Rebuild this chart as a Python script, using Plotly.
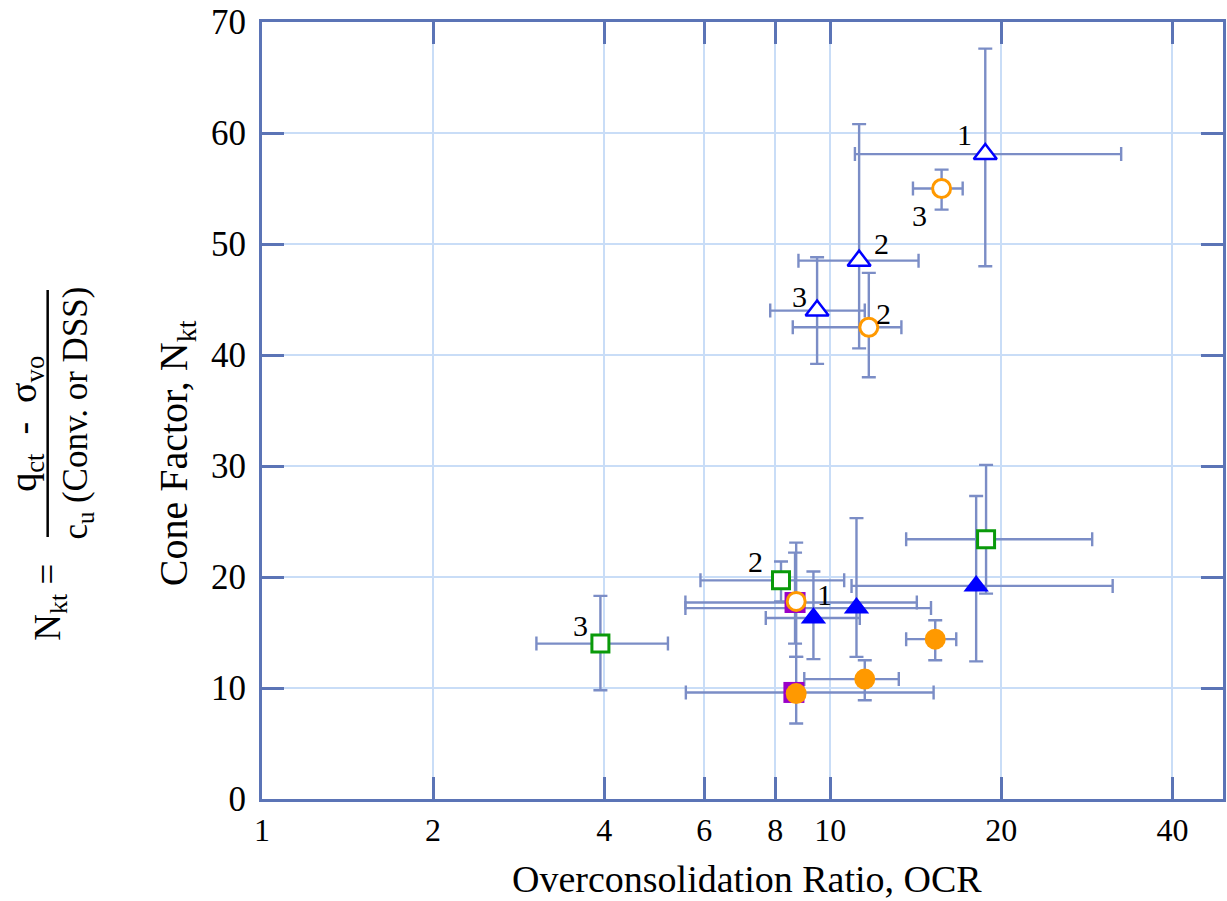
import numpy as np
import plotly.graph_objects as go

# ---------------- data: OCR (x), cone factor Nkt (y), error-bar extents ----------------
# open triangles
tri_o_ocr = [18.74, 11.24, 9.48]
tri_o_nkt = [58.1, 48.5, 44.0]
tri_o_ocr_lo = [11.05, 8.79, 7.84]
tri_o_ocr_hi = [32.5, 14.3, 11.5]
tri_o_nkt_lo = [48.0, 40.6, 39.2]
tri_o_nkt_hi = [67.6, 60.8, 48.8]
tri_o_site = ["1", "2", "3"]

# filled triangles
tri_f_ocr = [9.34, 11.12, 18.06]
tri_f_nkt = [16.3, 17.2, 19.2]
tri_f_ocr_lo = [7.70, 5.56, 10.9]
tri_f_ocr_hi = [11.27, 15.04, 31.4]
tri_f_nkt_lo = [12.6, 12.8, 12.4]
tri_f_nkt_hi = [20.5, 25.3, 27.3]
tri_f_site = ["", "", ""]

# open circles
cir_o_ocr = [8.71, 11.69, 15.7]
cir_o_nkt = [17.8, 42.5, 55.0]
cir_o_ocr_lo = [None, 8.59, 13.98]
cir_o_ocr_hi = [None, 13.34, 17.1]
cir_o_nkt_lo = [12.8, 38.0, 53.1]
cir_o_nkt_hi = [23.1, 47.4, 56.7]
cir_o_site = ["1", "2", "3"]

# filled circles
cir_f_ocr = [8.71, 11.5, 15.3]
cir_f_nkt = [9.5, 10.8, 14.4]
cir_f_ocr_lo = [None, 9.0, 13.6]
cir_f_ocr_hi = [None, 13.2, 16.66]
cir_f_nkt_lo = [6.8, 8.9, 12.5]
cir_f_nkt_hi = [12.8, 12.5, 16.1]
cir_f_site = ["", "", ""]

# open squares
sq_o_ocr = [18.8, 8.19, 3.94]
sq_o_nkt = [23.4, 19.7, 14.0]
sq_o_ocr_lo = [13.6, 5.91, 3.04]
sq_o_ocr_hi = [28.9, 10.58, 5.18]
sq_o_nkt_lo = [18.5, 17.8, 9.8]
sq_o_nkt_hi = [30.1, 21.4, 18.3]
sq_o_site = ["", "2", "3"]

# filled squares
sq_f_ocr = [8.67, 8.63]
sq_f_nkt = [17.7, 9.6]
sq_f_ocr_lo = [5.56, 5.57]
sq_f_ocr_hi = [14.2, 15.2]
sq_f_nkt_lo = [14.0, None]
sq_f_nkt_hi = [22.2, None]
sq_f_site = ["", ""]

ocr_ticks = [1, 2, 4, 6, 8, 10, 20, 40]
ocr_tick_text = ["1", "2", "4", "6", "8", "10", "20", "40"]
nkt_ticks = [0, 10, 20, 30, 40, 50, 60, 70]
nkt_tick_text = ["0", "10", "20", "30", "40", "50", "60", "70"]

# ---------------- styling ----------------
W, H = 1227, 901
ML, MR, MT, MB = 262, 1, 22, 102
PW, PH = W - ML - MR, H - MT - MB

AXIS = "#5b74b6"
GRID = "#c9ddf7"
ERR = "#7b8dc6"
BLUE = "#0000ff"
ORANGE = "#ff9900"
GREEN = "#0a9a0a"
PURPLE = "#9a00c8"
FONT = "Liberation Serif"

series = [
    # name, x, y, xlo, xhi, ylo, yhi, sites, marker
    ("filled squares", sq_f_ocr, sq_f_nkt, sq_f_ocr_lo, sq_f_ocr_hi, sq_f_nkt_lo, sq_f_nkt_hi, sq_f_site,
     dict(symbol="square", size=21, color=PURPLE, line=dict(width=0))),
    ("open squares", sq_o_ocr, sq_o_nkt, sq_o_ocr_lo, sq_o_ocr_hi, sq_o_nkt_lo, sq_o_nkt_hi, sq_o_site,
     dict(symbol="square", size=17, color="white", line=dict(width=3, color=GREEN))),
    ("filled triangles", tri_f_ocr, tri_f_nkt, tri_f_ocr_lo, tri_f_ocr_hi, tri_f_nkt_lo, tri_f_nkt_hi, tri_f_site,
     dict(symbol="triangle-up", size=22, color=BLUE, line=dict(width=0))),
    ("open triangles", tri_o_ocr, tri_o_nkt, tri_o_ocr_lo, tri_o_ocr_hi, tri_o_nkt_lo, tri_o_nkt_hi, tri_o_site,
     dict(symbol="triangle-up", size=20, color="white", line=dict(width=2.5, color=BLUE))),
    ("filled circles", cir_f_ocr, cir_f_nkt, cir_f_ocr_lo, cir_f_ocr_hi, cir_f_nkt_lo, cir_f_nkt_hi, cir_f_site,
     dict(symbol="circle", size=21, color=ORANGE, line=dict(width=0))),
    ("open circles", cir_o_ocr, cir_o_nkt, cir_o_ocr_lo, cir_o_ocr_hi, cir_o_nkt_lo, cir_o_nkt_hi, cir_o_site,
     dict(symbol="circle", size=18, color="white", line=dict(width=3, color=ORANGE))),
]

# pixel offsets of the site-number labels from their markers
label_shift = {
    ("open triangles", "1"): (-21, 20),
    ("open triangles", "2"): (22, 17),
    ("open triangles", "3"): (-18, 14),
    ("open circles", "1"): (28, 7),
    ("open circles", "2"): (15, 14),
    ("open circles", "3"): (-22, -27),
    ("open squares", "2"): (-26, 19),
    ("open squares", "3"): (-20, 18),
}

fig = go.Figure()

def bar_spec(vals, lo, hi):
    return dict(type="data", symmetric=False,
                array=[h - v for v, h in zip(vals, hi)],
                arrayminus=[v - l for v, l in zip(vals, lo)],
                color=ERR, thickness=2.4, width=7)

# error bars first so every marker sits on top of them
for name, x, y, xlo, xhi, ylo, yhi, sites, mk in series:
    ix = [i for i in range(len(x)) if xlo[i] is not None]
    iy = [i for i in range(len(x)) if ylo[i] is not None]
    if ix:
        xs = [x[i] for i in ix]
        fig.add_trace(go.Scatter(
            x=xs, y=[y[i] for i in ix], mode="markers",
            marker=dict(size=2, opacity=0), hoverinfo="skip",
            error_x=bar_spec(xs, [xlo[i] for i in ix], [xhi[i] for i in ix])))
    if iy:
        ys = [y[i] for i in iy]
        fig.add_trace(go.Scatter(
            x=[x[i] for i in iy], y=ys, mode="markers",
            marker=dict(size=2, opacity=0), hoverinfo="skip",
            error_y=bar_spec(ys, [ylo[i] for i in iy], [yhi[i] for i in iy])))

for name, x, y, xlo, xhi, ylo, yhi, sites, mk in series:
    fig.add_trace(go.Scatter(x=x, y=y, mode="markers", name=name, marker=mk))
    for xi, yi, s in zip(x, y, sites):
        if s:
            dx, dy = label_shift[(name, s)]
            fig.add_annotation(x=np.log10(xi), y=yi, xref="x", yref="y", text=s,
                               showarrow=False, xshift=dx, yshift=dy,
                               xanchor="center", yanchor="middle",
                               font=dict(family=FONT, size=30, color="black"))

def px_x(px):
    return (px - ML) / PW

def px_y(py):
    return (H - MB - py) / PH

# axis titles and the Nkt definition
fig.add_annotation(x=px_x(749), y=px_y(879), xref="paper", yref="paper",
                   text="Overconsolidation Ratio, OCR", showarrow=False,
                   xanchor="center", yanchor="middle",
                   font=dict(family=FONT, size=38, color="black"))
fig.add_annotation(x=px_x(176), y=px_y(453), xref="paper", yref="paper",
                   text="Cone Factor, N<sub>kt</sub>", showarrow=False, textangle=-90,
                   xanchor="center", yanchor="middle",
                   font=dict(family=FONT, size=40, color="black"))
fig.add_annotation(x=px_x(49), y=px_y(602), xref="paper", yref="paper",
                   text="N<sub>kt</sub> =", showarrow=False, textangle=-90,
                   xanchor="center", yanchor="middle",
                   font=dict(family=FONT, size=37, color="black"))
fig.add_annotation(x=px_x(25), y=px_y(424), xref="paper", yref="paper",
                   text="q<sub>ct</sub>\u00a0 - \u00a0σ<sub>vo</sub>", showarrow=False, textangle=-90,
                   xanchor="center", yanchor="middle",
                   font=dict(family=FONT, size=38, color="black"))
fig.add_annotation(x=px_x(76), y=px_y(413), xref="paper", yref="paper",
                   text="c<sub>u</sub> (Conv. or DSS)", showarrow=False, textangle=-90,
                   xanchor="center", yanchor="middle",
                   font=dict(family=FONT, size=35, color="black"))
fig.add_shape(type="line", xref="paper", yref="paper",
              x0=px_x(47), x1=px_x(47), y0=px_y(290), y1=px_y(537),
              line=dict(color="black", width=2.5))

fig.update_xaxes(type="log", range=[0, np.log10(49.1)],
                 tickmode="array", tickvals=ocr_ticks, ticktext=ocr_tick_text,
                 ticks="inside", ticklen=22, tickwidth=2.5, tickcolor=AXIS,
                 showline=True, linecolor=AXIS, linewidth=3, mirror="ticks",
                 showgrid=True, gridcolor=GRID, gridwidth=2, zeroline=False,
                 ticklabelstandoff=1,
                 tickfont=dict(family=FONT, size=32, color="black"))
fig.update_yaxes(range=[0, 70], tickmode="array", tickvals=nkt_ticks, ticktext=nkt_tick_text,
                 ticks="inside", ticklen=22, tickwidth=2.5, tickcolor=AXIS,
                 showline=True, linecolor=AXIS, linewidth=3, mirror="ticks",
                 showgrid=True, gridcolor=GRID, gridwidth=2, zeroline=False,
                 ticklabelstandoff=6,
                 tickfont=dict(family=FONT, size=35, color="black"))

fig.update_layout(width=W, height=H, margin=dict(l=ML, r=MR, t=MT, b=MB, pad=0),
                  paper_bgcolor="white", plot_bgcolor="white", showlegend=False,
                  font=dict(family=FONT, color="black"))

fig.write_html("out.html")
